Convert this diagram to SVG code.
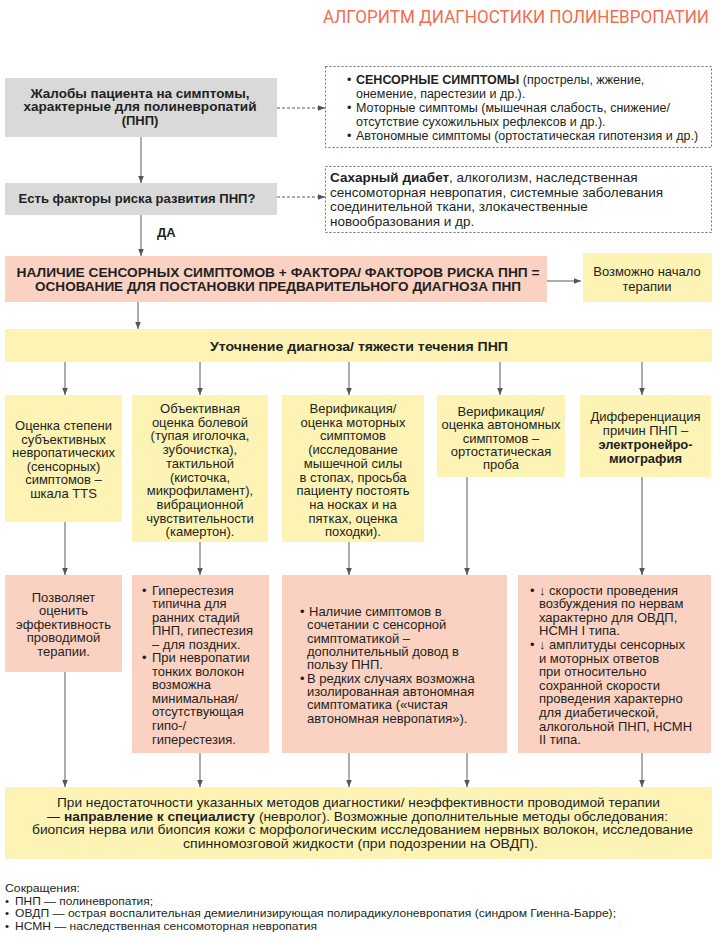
<svg xmlns="http://www.w3.org/2000/svg" width="720" height="937" viewBox="0 0 720 937">
<defs>
<marker id="ah" markerUnits="userSpaceOnUse" markerWidth="8" markerHeight="8" refX="7" refY="3.5" orient="auto">
<path d="M0,0.7 L7,3.5 L0,6.3 z" fill="#555"/>
</marker>
<style>
text{font-family:"Liberation Sans",Arial,sans-serif;font-size:13px;fill:#231f20}
.m{text-anchor:middle}
.b{font-weight:bold}
.cd{font-size:13px}
.ft{font-size:11.5px}
.s1{font-size:12.5px}
.s2{font-size:13.5px}
.gray{fill:#d9d9d9}
.yel{fill:#fcf3b4}
.pink{fill:#fbd2c2}
.dot{fill:none;stroke:#6d6d6d;stroke-width:1;stroke-dasharray:2,2}
.ln{stroke:#5a5a5a;stroke-width:1;fill:none}
.dash{stroke-dasharray:3,2}
.title{font-family:Roboto,"Liberation Sans",sans-serif;font-size:17.5px;fill:#f26c50}
</style>
</defs>
<rect width="720" height="937" fill="#fff"/>
<text class="title" x="323" y="23" textLength="386" lengthAdjust="spacingAndGlyphs">АЛГОРИТМ ДИАГНОСТИКИ ПОЛИНЕВРОПАТИИ</text>

<g id="connectors">
<line class="ln" x1="141" y1="137" x2="141" y2="183" marker-end="url(#ah)"/>
<line class="ln dash" x1="277" y1="108" x2="325" y2="108" marker-end="url(#ah)"/>
<line class="ln dash" x1="277" y1="197" x2="325" y2="197" marker-end="url(#ah)"/>
<line class="ln" x1="141" y1="215" x2="141" y2="256" marker-end="url(#ah)"/>
<line class="ln" x1="547" y1="281" x2="581" y2="281" marker-end="url(#ah)"/>
<line class="ln" x1="138" y1="302" x2="138" y2="329" marker-end="url(#ah)"/>
<line class="ln" x1="65" y1="362" x2="65" y2="395" marker-end="url(#ah)"/>
<line class="ln" x1="200" y1="362" x2="200" y2="395" marker-end="url(#ah)"/>
<line class="ln" x1="349" y1="362" x2="349" y2="395" marker-end="url(#ah)"/>
<line class="ln" x1="500" y1="362" x2="500" y2="395" marker-end="url(#ah)"/>
<line class="ln" x1="642" y1="362" x2="642" y2="395" marker-end="url(#ah)"/>
<line class="ln" x1="65" y1="522" x2="65" y2="575" marker-end="url(#ah)"/>
<line class="ln" x1="200" y1="542" x2="200" y2="575" marker-end="url(#ah)"/>
<line class="ln" x1="349" y1="542" x2="349" y2="575" marker-end="url(#ah)"/>
<line class="ln" x1="467" y1="477" x2="467" y2="575" marker-end="url(#ah)"/>
<line class="ln" x1="642" y1="477" x2="642" y2="575" marker-end="url(#ah)"/>
<line class="ln" x1="65" y1="672" x2="65" y2="787" marker-end="url(#ah)"/>
<line class="ln" x1="200" y1="753" x2="200" y2="787" marker-end="url(#ah)"/>
<line class="ln" x1="349" y1="753" x2="349" y2="787" marker-end="url(#ah)"/>
<line class="ln" x1="467" y1="753" x2="467" y2="787" marker-end="url(#ah)"/>
<line class="ln" x1="642" y1="753" x2="642" y2="787" marker-end="url(#ah)"/>
<text class="b" x="157" y="237">ДА</text>
</g>

<g id="complaints">
<rect class="gray" x="5" y="78" width="272" height="59"/>
<text class="m b" x="140" y="97.5" textLength="219" lengthAdjust="spacingAndGlyphs">Жалобы пациента на симптомы,</text>
<text class="m b" x="140" y="111" textLength="233" lengthAdjust="spacingAndGlyphs">характерные для полиневропатий</text>
<text class="m b" x="140" y="124.5">(ПНП)</text>
</g>

<g id="symptoms-list">
<rect class="dot" x="325.5" y="66.5" width="386" height="81"/>
<text class="s1" x="347" y="83.5">•</text>
<text class="s1" x="356" y="83.5"><tspan class="b">СЕНСОРНЫЕ СИМПТОМЫ</tspan> (прострелы, жжение,</text>
<text class="s1" x="356" y="97.5">онемение, парестезии и др.).</text>
<text class="s1" x="347" y="111.5">•</text>
<text class="s1" x="356" y="111.5">Моторные симптомы (мышечная слабость, снижение/</text>
<text class="s1" x="356" y="125.5">отсутствие сухожильных рефлексов и др.).</text>
<text class="s1" x="347" y="139.5">•</text>
<text class="s1" x="356" y="139.5">Автономные симптомы (ортостатическая гипотензия и др.)</text>
</g>

<g id="risk-question">
<rect class="gray" x="5" y="183" width="272" height="32"/>
<text class="m b" x="137" y="203" textLength="237" lengthAdjust="spacingAndGlyphs">Есть факторы риска развития ПНП?</text>
</g>

<g id="risk-list">
<rect class="dot" x="325.5" y="166.5" width="386" height="66"/>
<text class="s2" x="330" y="182"><tspan class="b">Сахарный диабет</tspan>, алкоголизм, наследственная</text>
<text class="s2" x="330" y="196.7">сенсомоторная невропатия, системные заболевания</text>
<text class="s2" x="330" y="211.4">соединительной ткани, злокачественные</text>
<text class="s2" x="330" y="226.1">новообразования и др.</text>
</g>

<g id="preliminary-diagnosis">
<rect class="pink" x="5" y="256" width="542" height="46"/>
<text class="m b" x="278" y="277" textLength="523" lengthAdjust="spacingAndGlyphs">НАЛИЧИЕ СЕНСОРНЫХ СИМПТОМОВ + ФАКТОРА/ ФАКТОРОВ РИСКА ПНП =</text>
<text class="m b" x="278" y="291" textLength="486" lengthAdjust="spacingAndGlyphs">ОСНОВАНИЕ ДЛЯ ПОСТАНОВКИ ПРЕДВАРИТЕЛЬНОГО ДИАГНОЗА ПНП</text>
</g>

<g id="therapy-start">
<rect class="yel" x="583" y="253" width="129" height="49"/>
<text class="m cd" x="647" y="276">Возможно начало</text>
<text class="m cd" x="647" y="291">терапии</text>
</g>

<g id="clarification">
<rect class="yel" x="5" y="329" width="707" height="33"/>
<text class="m b cd" x="359" y="351" textLength="298" lengthAdjust="spacingAndGlyphs">Уточнение диагноза/ тяжести течения ПНП</text>
</g>

<g id="col1">
<rect class="yel" x="5" y="395" width="117" height="127"/>
<text class="m" x="63.5" y="430">Оценка степени</text>
<text class="m" x="63.5" y="443.5">субъективных</text>
<text class="m" x="63.5" y="457">невропатических</text>
<text class="m" x="63.5" y="470.5">(сенсорных)</text>
<text class="m" x="63.5" y="484">симптомов –</text>
<text class="m" x="63.5" y="497.5">шкала TTS</text>
</g>

<g id="col2">
<rect class="yel" x="132" y="395" width="136" height="147"/>
<text class="m" x="200" y="413">Объективная</text>
<text class="m" x="200" y="426.7">оценка болевой</text>
<text class="m" x="200" y="440.4">(тупая иголочка,</text>
<text class="m" x="200" y="454.1">зубочистка),</text>
<text class="m" x="200" y="467.8">тактильной</text>
<text class="m" x="200" y="481.5">(кисточка,</text>
<text class="m" x="200" y="495.2">микрофиламент),</text>
<text class="m" x="200" y="508.9">вибрационной</text>
<text class="m" x="200" y="522.6">чувствительности</text>
<text class="m" x="200" y="536.3">(камертон).</text>
</g>

<g id="col3">
<rect class="yel" x="282" y="395" width="142" height="147"/>
<text class="m" x="353" y="413">Верификация/</text>
<text class="m" x="353" y="426.7">оценка моторных</text>
<text class="m" x="353" y="440.4">симптомов</text>
<text class="m" x="353" y="454.1">(исследование</text>
<text class="m" x="353" y="467.8">мышечной силы</text>
<text class="m" x="353" y="481.5">в стопах, просьба</text>
<text class="m" x="353" y="495.2">пациенту постоять</text>
<text class="m" x="353" y="508.9">на носках и на</text>
<text class="m" x="353" y="522.6">пятках, оценка</text>
<text class="m" x="353" y="536.3">походки).</text>
</g>

<g id="col4">
<rect class="yel" x="437" y="395" width="128" height="82"/>
<text class="m" x="501" y="416">Верификация/</text>
<text class="m" x="501" y="429.3">оценка автономных</text>
<text class="m" x="501" y="442.6">симптомов –</text>
<text class="m" x="501" y="455.9">ортостатическая</text>
<text class="m" x="501" y="469.2">проба</text>
</g>

<g id="col5">
<rect class="yel" x="580" y="395" width="131" height="82"/>
<text class="m" x="645.5" y="421">Дифференциация</text>
<text class="m" x="645.5" y="435">причин ПНП –</text>
<text class="m b" x="645.5" y="449">электронейро-</text>
<text class="m b" x="645.5" y="463">миография</text>
</g>

<g id="res1">
<rect class="pink" x="5" y="575" width="117" height="97"/>
<text class="m" x="63.5" y="601.5">Позволяет</text>
<text class="m" x="63.5" y="615">оценить</text>
<text class="m" x="63.5" y="628.5">эффективность</text>
<text class="m" x="63.5" y="642">проводимой</text>
<text class="m" x="63.5" y="655.5">терапии.</text>
</g>

<g id="res2">
<rect class="pink" x="132" y="575" width="137" height="178"/>
<text x="142" y="594.5">•</text>
<text x="152" y="594.5">Гиперестезия</text>
<text x="152" y="608">типична для</text>
<text x="152" y="621.6">ранних стадий</text>
<text x="152" y="635.1">ПНП, гипестезия</text>
<text x="152" y="648.7">– для поздних.</text>
<text x="142" y="662.2">•</text>
<text x="152" y="662.2">При невропатии</text>
<text x="152" y="675.8">тонких волокон</text>
<text x="152" y="689.3">возможна</text>
<text x="152" y="702.9">минимальная/</text>
<text x="152" y="716.4">отсутствующая</text>
<text x="152" y="730">гипо-/</text>
<text x="152" y="743.5">гиперестезия.</text>
</g>

<g id="res3">
<rect class="pink" x="282" y="575" width="225" height="178"/>
<text x="300" y="616">•</text>
<text x="309" y="616">Наличие симптомов в</text>
<text x="307" y="629.3">сочетании с сенсорной</text>
<text x="307" y="642.6">симптоматикой –</text>
<text x="307" y="656">дополнительный довод в</text>
<text x="307" y="669.3">пользу ПНП.</text>
<text x="300" y="682.6">•</text>
<text x="307" y="682.6">В редких случаях возможна</text>
<text x="307" y="696">изолированная автономная</text>
<text x="307" y="709.3">симптоматика («чистая</text>
<text x="307" y="722.6">автономная невропатия»).</text>
</g>

<g id="res4">
<rect class="pink" x="518" y="575" width="193" height="178"/>
<text x="530" y="594.5">•</text>
<text x="539" y="594.5">↓ скорости проведения</text>
<text x="539" y="608.1">возбуждения по нервам</text>
<text x="539" y="621.7">характерно для ОВДП,</text>
<text x="539" y="635.3">НСМН I типа.</text>
<text x="530" y="648.9">•</text>
<text x="539" y="648.9">↓ амплитуды сенсорных</text>
<text x="539" y="662.5">и моторных ответов</text>
<text x="539" y="676.1">при относительно</text>
<text x="539" y="689.7">сохранной скорости</text>
<text x="539" y="703.3">проведения характерно</text>
<text x="539" y="716.9">для диабетической,</text>
<text x="539" y="730.5">алкогольной ПНП, НСМН</text>
<text x="539" y="744.1">II типа.</text>
</g>

<g id="referral">
<rect class="yel" x="5" y="787" width="707" height="72"/>
<text class="m cd" x="358.5" y="807" textLength="603" lengthAdjust="spacingAndGlyphs">При недостаточности указанных методов диагностики/ неэффективности проводимой терапии</text>
<text class="cd" x="47" y="820.5">—</text>
<text class="cd b" x="64" y="820.5" textLength="191" lengthAdjust="spacingAndGlyphs">направление к специалисту</text>
<text class="cd" x="259" y="820.5" textLength="409" lengthAdjust="spacingAndGlyphs">(невролог).  Возможные дополнительные методы обследования:</text>
<text class="m cd" x="362.5" y="834" textLength="661" lengthAdjust="spacingAndGlyphs">биопсия нерва или биопсия кожи с морфологическим исследованием нервных волокон, исследование</text>
<text class="m cd" x="360.5" y="847.5" textLength="355" lengthAdjust="spacingAndGlyphs">спинномозговой жидкости (при подозрении на ОВДП).</text>
</g>

<g id="abbreviations">
<text class="ft" x="5" y="892" textLength="75" lengthAdjust="spacingAndGlyphs">Сокращения:</text>
<text class="ft" x="5" y="904.5">•</text>
<text class="ft" x="15" y="904.5" textLength="138" lengthAdjust="spacingAndGlyphs">ПНП — полиневропатия;</text>
<text class="ft" x="5" y="917">•</text>
<text class="ft" x="15" y="917" textLength="601" lengthAdjust="spacingAndGlyphs">ОВДП — острая воспалительная демиелинизирующая полирадикулоневропатия (синдром Гиенна-Барре);</text>
<text class="ft" x="5" y="929.5">•</text>
<text class="ft" x="15" y="929.5" textLength="302" lengthAdjust="spacingAndGlyphs">НСМН — наследственная сенсомоторная невропатия</text>
</g>
</svg>
